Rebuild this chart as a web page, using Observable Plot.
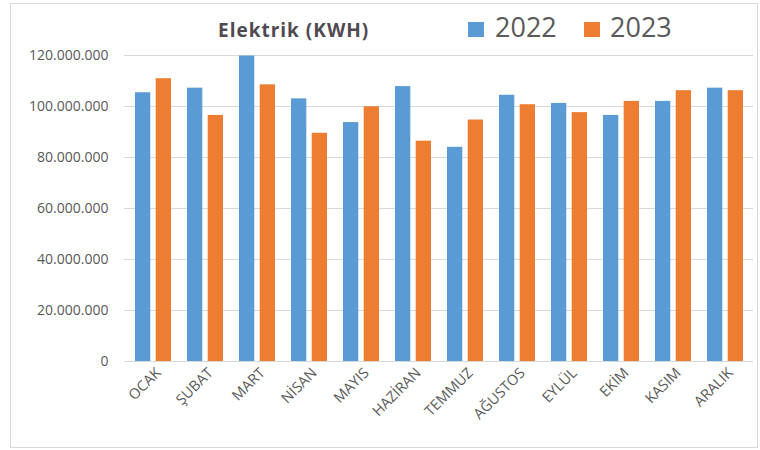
<!DOCTYPE html>
<html>
<head>
<meta charset="utf-8">
<script src="https://cdn.jsdelivr.net/npm/d3@7"></script>
<script src="https://cdn.jsdelivr.net/npm/@observablehq/plot@0.6"></script>
<style>
  html, body { margin: 0; padding: 0; background: #fff; }
  body { width: 760px; height: 450px; position: relative; overflow: hidden; font-family: "Open Sans", sans-serif; }
  #frame { position: absolute; left: 10px; top: 3px; width: 746px; height: 443px; border: 1px solid #d9d9d9; pointer-events: none; }
  #header { position: relative; height: 45px; }
  .title { position: absolute; left: 218px; top: 20px; line-height: 20px; font-size: 19px; font-weight: bold; letter-spacing: 1px; color: #4f4a52; white-space: nowrap; }
  .sw { position: absolute; top: 22px; width: 16px; height: 15px; }
  .lt { position: absolute; top: 12px; line-height: 30px; font-size: 27px; color: #595959; }
  #chart svg { display: block; }
</style>
</head>
<body>
<div id="header">
  <div class="title">Elektrik (KWH)</div>
  <div class="sw" style="left:468px;background:#5b9bd5"></div>
  <div class="lt" style="left:495px">2022</div>
  <div class="sw" style="left:584px;background:#ed7d31"></div>
  <div class="lt" style="left:610px">2023</div>
</div>
<div id="chart"></div>
<div id="frame"></div>
<script>
const months = ["OCAK","ŞUBAT","MART","NİSAN","MAYIS","HAZİRAN","TEMMUZ","AĞUSTOS","EYLÜL","EKİM","KASIM","ARALIK"];
const values2022 = [105.4e6,107.2e6,119.8e6,103.0e6,93.7e6,107.8e6,84.0e6,104.4e6,101.2e6,96.5e6,102.0e6,107.2e6];
const values2023 = [110.9e6,96.5e6,108.5e6,89.5e6,99.9e6,86.4e6,94.7e6,100.7e6,97.6e6,102.0e6,106.2e6,106.2e6];
const yTicks = [0,20e6,40e6,60e6,80e6,100e6,120e6];

const d2022 = months.map((m,i)=>({month:m, value:values2022[i]}));
const d2023 = months.map((m,i)=>({month:m, value:values2023[i]}));
const fmt = d3.formatLocale({decimal:",", thousands:".", grouping:[3], currency:["",""]}).format(",.0f");

const chart = Plot.plot({
  width: 760,
  height: 400,
  marginTop: 10,
  marginBottom: 84,
  marginLeft: 124,
  marginRight: 7,
  style: {fontFamily: "'Open Sans', sans-serif", color: "#595959", background: "transparent"},
  x: {domain: months, paddingInner: 0.31, paddingOuter: 0.155, label: null},
  y: {domain: [0, 120e6], label: null},
  marks: [
    Plot.gridY(yTicks, {stroke: "#d9d9d9", strokeOpacity: 1}),
    Plot.barY(d2022, {x: "month", y: "value", fill: "#5b9bd5", insetRight: 20.7}),
    Plot.barY(d2023, {x: "month", y: "value", fill: "#ed7d31", insetLeft: 20.7}),
    Plot.axisY({ticks: yTicks, tickSize: 0, tickPadding: 16, tickFormat: fmt, fontSize: 14, label: null, style: {letterSpacing: "1px"}}),
    Plot.axisX({tickSize: 0, tickRotate: -45, tickPadding: 9, dx: 5, fontSize: 14.5, label: null, style: {letterSpacing: "0.6px"}})
  ]
});
document.getElementById("chart").appendChild(chart);
</script>
</body>
</html>
